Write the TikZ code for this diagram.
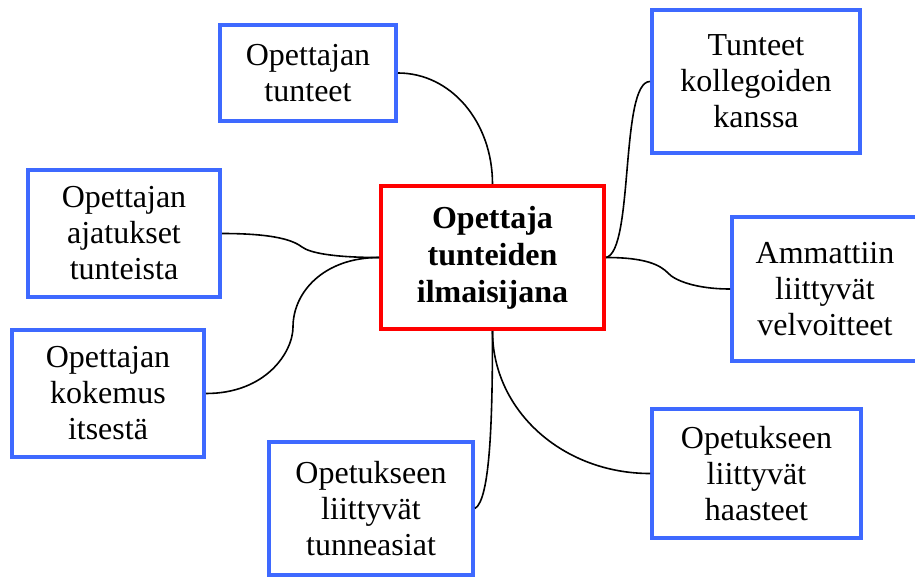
\documentclass[tikz,border=0pt]{standalone}
\usepackage{fontspec}
\setmainfont{Liberation Serif}
\definecolor{boxblue}{RGB}{62,105,255}
\definecolor{boxred}{RGB}{255,0,0}
\begin{document}
\begin{tikzpicture}[x=1pt,y=-1pt,
  topic/.style={draw=boxblue, line width=4pt, fill=white, align=center,
    font=\fontsize{32}{36}\selectfont, inner sep=0pt},
  core/.style={draw=boxred, line width=4pt, fill=white, align=center,
    font=\fontsize{32}{37}\selectfont\bfseries, inner sep=0pt,
    minimum width=223pt, minimum height=143pt},
  link/.style={draw=black, line width=1.6pt}]
\clip (0,0) rectangle (915,577);
\fill[white] (0,0) rectangle (915,577);

% central theme
\node[core] (C) at (492.5,257.5) {Opettaja\\tunteiden\\ilmaisijana};

% surrounding topics
\node[topic, minimum width=176pt, minimum height=96pt]  (T1) at (308,73)      {Opettajan\\tunteet};
\node[topic, minimum width=208pt, minimum height=143pt] (T2) at (756,81.5)    {Tunteet\\kollegoiden\\kanssa};
\node[topic, minimum width=192pt, minimum height=127pt] (T3) at (124,233.5)   {Opettajan\\ajatukset\\tunteista};
\node[topic, minimum width=186pt, minimum height=144pt] (T4) at (825,289)     {Ammattiin\\liittyvät\\velvoitteet};
\node[topic, minimum width=192pt, minimum height=127pt] (T5) at (108,393.5)   {Opettajan\\kokemus\\itsestä};
\node[topic, minimum width=204pt, minimum height=133pt] (T6) at (371,508.5)   {Opetukseen\\liittyvät\\tunneasiat};
\node[topic, minimum width=209pt, minimum height=129pt] (T7) at (756.5,473.5) {Opetukseen\\liittyvät\\haasteet};

% bend points of the wavy links
\coordinate (k3) at (302,247);
\coordinate (k4) at (668,273);
\coordinate (k5) at (293,327);

% links from the centre to each topic
\path[link] (C.north) .. controls +(0,-62) and +(53,0) .. (T1.east);
\path[link] (C.east) .. controls +(28,-6) and +(-30,0) .. (T2.west);
\path[link] (T3.east) .. controls +(55,0) and +(-8,-6) .. (k3)
                      .. controls +(8,6) and +(-45,0) .. (C.west);
\path[link] (C.east) .. controls +(40,0) and +(-8,-8) .. (k4)
                     .. controls +(6,7) and +(-35,0) .. (T4.west);
\path[link] (T5.east) .. controls +(60,0) and +(0,25) .. (k5)
                      .. controls +(0,-35) and +(-55,0) .. (C.west);
\path[link] (C.south) .. controls +(0,91) and +(15,-9) .. (T6.east);
\path[link] (C.south) .. controls +(0,80) and +(-87,0) .. (T7.west);
\end{tikzpicture}
\end{document}
